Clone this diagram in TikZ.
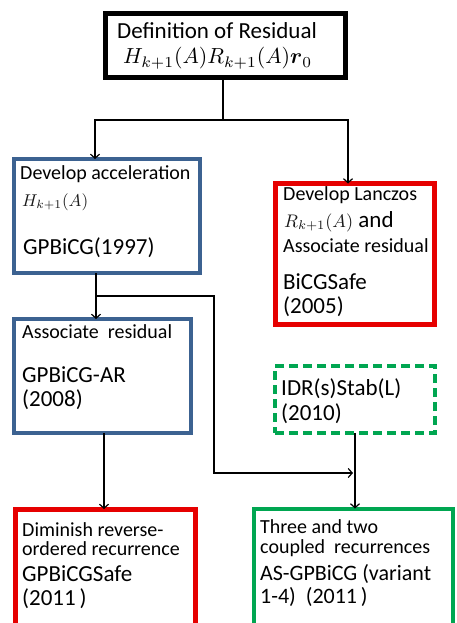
\documentclass[tikz,border=0pt]{standalone}
\usepackage{amsmath}
\usepackage{graphicx}
\usepackage[no-math]{fontspec}
\setmainfont{Carlito}
\usetikzlibrary{arrows.meta,calc}
\definecolor{bblue}{RGB}{60,98,145}
\definecolor{bred}{RGB}{230,0,0}
\definecolor{bgreen}{RGB}{0,166,81}
\begin{document}
\begin{tikzpicture}[x=1pt,y=-1pt,
  box/.style={draw, rectangle, inner sep=0pt, outer sep=0pt},
  sm/.style={anchor=base west, inner sep=0pt, font=\fontsize{20}{22}\selectfont},
  lg/.style={anchor=base west, inner sep=0pt, font=\fontsize{23}{26}\selectfont},
  mth/.style={anchor=base west, inner sep=0pt, font=\normalsize, text=black!90},
  arr/.style={line width=1.2pt, -{Straight Barb[length=4pt,width=9pt]}},
  ln/.style={line width=1.2pt}
]
\useasboundingbox (0,0) rectangle (457,623);
\fill[white] (0,0) rectangle (457,623);
\clip (0,0) rectangle (457,623);

% boxes
\node[box, line width=5pt, draw=black, minimum width=240pt, minimum height=64pt] (top) at (225.5,45.5) {};
\node[box, line width=4pt, draw=bblue, minimum width=186pt, minimum height=114pt] (b1) at (107,216) {};
\node[box, line width=5pt, draw=bred, minimum width=159pt, minimum height=141pt] (r1) at (355,254) {};
\node[box, line width=4pt, draw=bblue, minimum width=177pt, minimum height=114pt] (b2) at (102.5,376) {};
\node[box, line width=4pt, draw=bgreen, dash pattern=on 9pt off 5pt, minimum width=160pt, minimum height=67pt] (idr) at (355,399.5) {};
\node[box, line width=5pt, draw=bred, minimum width=180pt, minimum height=128pt] (r2) at (105.5,573) {};
\node[box, line width=4pt, draw=bgreen, minimum width=199pt, minimum height=129pt] (g2) at (353.5,573) {};

% texts
\node[anchor=base, inner sep=0pt, font=\fontsize{23}{26}\selectfont] (t1) at (217,39) {Definition of Residual};
\node[mth, text=black] (t2) at (123,64) {\resizebox{189pt}{!}{$H_{k+1}(A)R_{k+1}(A)\boldsymbol{r}_0$}};

\node[sm] (b1a) at (20,179) {Develop acceleration};
\node[mth] (b1b) at (22,206) {\resizebox{66pt}{!}{$H_{k+1}(A)$}};
\node[lg] (b1c) at (23,254) {GPBiCG(1997)};

\node[sm] (r1a) at (283,200) {Develop Lanczos};
\node[lg] (r1b) at (284,227) {{\normalsize\color{black!90}\resizebox{69pt}{!}{$R_{k+1}(A)$}} and};
\node[sm] (r1c) at (283,252) {Associate residual};
\node[lg] (r1d) at (283,289) {BiCGSafe};
\node[lg] (r1e) at (283,313) {(2005)};

\node[sm] (b2a) at (22,338) {Associate\ \ residual};
\node[lg] (b2b) at (22,382) {GPBiCG-AR};
\node[lg] (b2c) at (22,406) {(2008)};

\node[lg] (ia) at (281,395) {IDR(s)Stab(L)};
\node[lg] (ib) at (281,420) {(2010)};

\node[sm] (r2a) at (22,536) {Diminish reverse-};
\node[sm] (r2b) at (22,555) {ordered recurrence};
\node[lg] (r2c) at (22,581) {GPBiCGSafe};
\node[lg] (r2d) at (22,605) {(2011\,)};

\node[sm] (g2a) at (260,533) {Three and two};
\node[sm] (g2b) at (260,553) {coupled\ \ recurrences};
\node[lg, font=\fontsize{22}{25}\selectfont] (g2c) at (260,580) {AS-GPBiCG (variant};
\node[lg, font=\fontsize{22}{25}\selectfont] (g2d) at (260,603) {1-4)\ \ (2011\,)};

% connectors
\coordinate (j1) at (223,120);
\coordinate (a1) at (95,0);
\coordinate (a2) at (348,0);
\coordinate (a3) at (96,0);
\coordinate (a4) at (104,0);
\coordinate (j2) at (96,296);
\coordinate (k1) at (214,296);
\coordinate (k2) at (214,473);
\coordinate (k3) at (353,473);

\draw[ln] (j1 |- top.south) -- (j1);
\draw[arr] (j1) -| (a1 |- b1.north);
\draw[arr] (j1) -| (a2 |- r1.north);
\draw[arr] (a3 |- b1.south) -- (a3 |- b2.north);
\draw[arr] (j2) -- (k1) -- (k2) -- (k3);
\draw[arr] (a4 |- b2.south) -- (a4 |- r2.north);
\draw[arr] (idr.south) -- (idr.south |- g2.north);
\end{tikzpicture}
\end{document}
